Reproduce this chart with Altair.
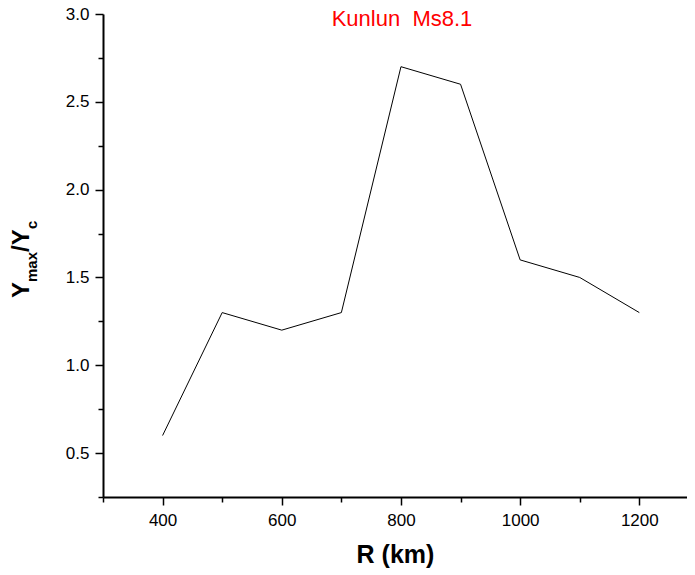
import altair as alt
import pandas as pd

# ---- data ----
r_km = [400, 500, 600, 700, 800, 900, 1000, 1100, 1200]
ratio = [0.6, 1.3, 1.2, 1.3, 2.7, 2.6, 1.6, 1.5, 1.3]

x_major = [400, 600, 800, 1000, 1200]
x_minor = [300, 500, 700, 900, 1100]
y_major = [0.5, 1.0, 1.5, 2.0, 2.5, 3.0]
y_minor = [0.25, 0.75, 1.25, 1.75, 2.25, 2.75]

x_domain = [300, 1280]
y_domain = [0.25, 3.0]

chart_title = "Kunlun\u00a0 Ms8.1"
x_title = "R (km)"
y_title_parts = ["Y", "max", "/Y", "c"]

FONT = "Liberation Sans"

df = pd.DataFrame({"R": r_km, "ratio": ratio})

xs = alt.Scale(domain=x_domain, nice=False, zero=False)
ys = alt.Scale(domain=y_domain, nice=False, zero=False)

common_axis = dict(
    domainColor="black", tickColor="black", labelColor="black",
    labelFont=FONT, labelFontSize=17, grid=False, tickWidth=1.5,
)

line = alt.Chart(df).mark_line(color="black", strokeWidth=1).encode(
    x=alt.X("R:Q", scale=xs,
            axis=alt.Axis(values=x_major, tickSize=8, labelPadding=7,
                          domainWidth=2, orient="bottom", title=x_title,
                          titleFont=FONT, titleFontSize=25, titleFontWeight="bold",
                          titleColor="black", titlePadding=14, format="d",
                          **common_axis)),
    y=alt.Y("ratio:Q", scale=ys,
            axis=alt.Axis(values=y_major, tickSize=8, labelPadding=6,
                          domainWidth=2, orient="left", title=None, format=".1f",
                          **common_axis)),
)

minor = alt.Chart(df).mark_line(opacity=0).encode(
    x=alt.X("R:Q", scale=xs,
            axis=alt.Axis(values=x_minor, tickSize=5, labels=False, domain=False,
                          orient="bottom", title=None, **common_axis)),
    y=alt.Y("ratio:Q", scale=ys,
            axis=alt.Axis(values=y_minor, tickSize=5, labels=False, domain=False,
                          orient="left", title=None, **common_axis)),
)

title_df = pd.DataFrame({"t": [chart_title]})
title = alt.Chart(title_df).mark_text(
    color="#ff0000", font=FONT, fontSize=22, align="center", baseline="alphabetic"
).encode(text="t:N", x=alt.value(299), y=alt.value(12))

# composite rotated y title with subscripts
def piece(txt, size, xpos, ypos):
    d = pd.DataFrame({"t": [txt]})
    return alt.Chart(d).mark_text(
        color="black", font=FONT, fontSize=size, fontWeight="bold",
        angle=270, align="left", baseline="alphabetic"
    ).encode(text="t:N", x=alt.value(xpos), y=alt.value(ypos))

big, sub = 24, 15
yt = [
    piece(y_title_parts[0], big, -74, 284),
    piece(y_title_parts[1], sub, -66, 268),
    piece(y_title_parts[2], big, -74, 238),
    piece(y_title_parts[3], sub, -66, 215),
]

chart = alt.layer(line, minor, title, *yt).resolve_axis(
    x="independent", y="independent"
).properties(
    width=584, height=483,
    padding={"left": 95, "top": 6, "right": 0, "bottom": 71},
    autosize=alt.AutoSizeParams(type="none"),
).configure_view(stroke=None)

chart.save("out.html", embed_options={"renderer": "svg", "actions": False})
